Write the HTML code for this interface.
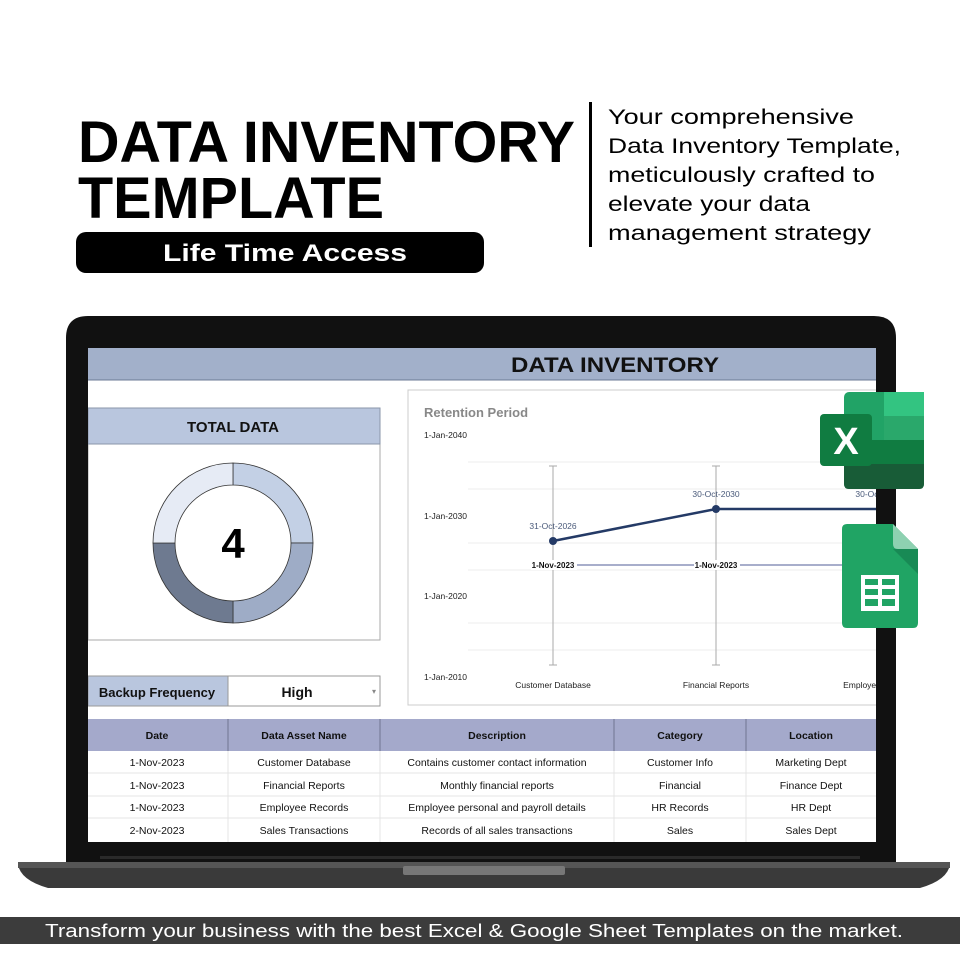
<!DOCTYPE html>
<html><head><meta charset="utf-8"><style>
html,body{margin:0;padding:0;background:#fff}
svg{display:block}
text{font-family:"Liberation Sans",sans-serif}
</style></head><body>
<svg width="960" height="960" viewBox="0 0 960 960" xmlns="http://www.w3.org/2000/svg">
<defs><clipPath id="scr"><rect x="88" y="348" width="788" height="494"/></clipPath></defs>
<rect width="960" height="960" fill="#fff"/>
<!-- Title -->
<text x="78" y="162" font-size="58" font-weight="bold" textLength="497" lengthAdjust="spacingAndGlyphs" fill="#000">DATA INVENTORY</text>
<text x="78" y="218" font-size="58" font-weight="bold" textLength="306" lengthAdjust="spacingAndGlyphs" fill="#000">TEMPLATE</text>
<rect x="76" y="232" width="408" height="41" rx="10" fill="#000"/>
<text x="285" y="261" font-size="24" font-weight="bold" fill="#fff" text-anchor="middle" textLength="244" lengthAdjust="spacingAndGlyphs">Life Time Access</text>
<rect x="589" y="102" width="3" height="145" fill="#000"/>
<g font-size="21" fill="#000">
<text x="608" y="124" textLength="246" lengthAdjust="spacingAndGlyphs">Your comprehensive</text>
<text x="608" y="153" textLength="293" lengthAdjust="spacingAndGlyphs">Data Inventory Template,</text>
<text x="608" y="182" textLength="267" lengthAdjust="spacingAndGlyphs">meticulously crafted to</text>
<text x="608" y="211" textLength="202" lengthAdjust="spacingAndGlyphs">elevate your data</text>
<text x="608" y="240" textLength="263" lengthAdjust="spacingAndGlyphs">management strategy</text>
</g>
<!-- Laptop -->
<path d="M66 870 L66 338 Q66 316 88 316 L874 316 Q896 316 896 338 L896 870 Z" fill="#111"/>
<path d="M18 864 L950 864 Q948 880 920 888 L48 888 Q20 880 18 864Z" fill="#3a3a3a"/>
<rect x="18" y="862" width="932" height="6" fill="#555"/>
<rect x="403" y="866" width="162" height="9" rx="2" fill="#777"/>
<rect x="100" y="856" width="760" height="3" fill="#2a2a2a"/>
<!-- Screen -->
<rect x="88" y="348" width="788" height="494" fill="#fff"/>
<g clip-path="url(#scr)">
<rect x="88" y="348" width="788" height="32" fill="#a2b0ca"/>
<line x1="88" y1="380" x2="876" y2="380" stroke="#6b7a94" stroke-width="1"/>
<text x="615" y="372" font-size="21" font-weight="bold" fill="#111" text-anchor="middle" textLength="208" lengthAdjust="spacingAndGlyphs">DATA INVENTORY</text>
<!-- Total data -->
<rect x="88" y="408" width="292" height="232" fill="#fff" stroke="#aaa"/>
<rect x="88" y="408" width="292" height="36" fill="#b9c6de" stroke="#8a96aa"/>
<text x="233" y="432" font-size="15" font-weight="bold" fill="#111" text-anchor="middle">TOTAL DATA</text>
<g stroke="#333" stroke-width="0.8">
<path d="M233 463 A80 80 0 0 1 313 543 L291 543 A58 58 0 0 0 233 485Z" fill="#c3d0e5"/>
<path d="M313 543 A80 80 0 0 1 233 623 L233 601 A58 58 0 0 0 291 543Z" fill="#9eacc6"/>
<path d="M233 623 A80 80 0 0 1 153 543 L175 543 A58 58 0 0 0 233 601Z" fill="#6e7a90"/>
<path d="M153 543 A80 80 0 0 1 233 463 L233 485 A58 58 0 0 0 175 543Z" fill="#e6ebf5"/>
</g>
<text x="233" y="558" font-size="42" font-weight="bold" fill="#000" text-anchor="middle">4</text>
<!-- Backup -->
<rect x="88" y="676" width="140" height="30" fill="#b9c6de"/>
<rect x="88" y="676" width="292" height="30" fill="none" stroke="#999"/>
<line x1="228" y1="676" x2="228" y2="706" stroke="#999"/>
<text x="157" y="697" font-size="13" font-weight="bold" fill="#111" text-anchor="middle">Backup Frequency</text>
<text x="297" y="697" font-size="14" font-weight="bold" fill="#111" text-anchor="middle">High</text>
<text x="372" y="694" font-size="8" fill="#888">▾</text>
<!-- Chart -->
<rect x="408" y="390" width="500" height="315" fill="#fff" stroke="#ccc"/>
<text x="424" y="417" font-size="13" font-weight="bold" fill="#888">Retention Period</text>
<g font-size="8.5" fill="#222">
<text x="424" y="438">1-Jan-2040</text><text x="424" y="519">1-Jan-2030</text>
<text x="424" y="599">1-Jan-2020</text><text x="424" y="680">1-Jan-2010</text>
</g>
<g stroke="#eee" stroke-width="1">
<line x1="468" y1="462" x2="876" y2="462"/><line x1="468" y1="489" x2="876" y2="489"/>
<line x1="468" y1="543" x2="876" y2="543"/><line x1="468" y1="570" x2="876" y2="570"/>
<line x1="468" y1="623" x2="876" y2="623"/><line x1="468" y1="650" x2="876" y2="650"/>
</g>
<g stroke="#aaa" stroke-width="1">
<line x1="553" y1="466" x2="553" y2="665"/><line x1="549" y1="466" x2="557" y2="466"/><line x1="549" y1="665" x2="557" y2="665"/>
<line x1="716" y1="466" x2="716" y2="665"/><line x1="712" y1="466" x2="720" y2="466"/><line x1="712" y1="665" x2="720" y2="665"/>
</g>
<line x1="553" y1="565" x2="876" y2="565" stroke="#a8aecb" stroke-width="2"/>
<polyline points="553,541 716,509 876,509" fill="none" stroke="#243a66" stroke-width="2.5"/>
<circle cx="553" cy="541" r="4" fill="#243a66"/><circle cx="716" cy="509" r="4" fill="#243a66"/>
<g font-size="8.5" fill="#4a5a7a" text-anchor="middle">
<text x="553" y="529">31-Oct-2026</text><text x="716" y="497">30-Oct-2030</text><text x="879" y="497">30-Oct-2030</text>
</g>
<g font-size="8" font-weight="bold" fill="#111" text-anchor="middle">
<rect x="531" y="560" width="46" height="10" fill="#fff"/><text x="553" y="568" font-family="Liberation Serif,serif">1-Nov-2023</text>
<rect x="694" y="560" width="46" height="10" fill="#fff"/><text x="716" y="568" font-family="Liberation Serif,serif">1-Nov-2023</text>
</g>
<g font-size="8.5" fill="#222" text-anchor="middle">
<text x="553" y="688">Customer Database</text><text x="716" y="688">Financial Reports</text><text x="879" y="688">Employee Records</text>
</g>
<!-- Table -->
<rect x="88" y="719" width="788" height="32" fill="#a4a9cb"/>
<g stroke="#707590" stroke-width="1">
<line x1="228" y1="719" x2="228" y2="751"/><line x1="380" y1="719" x2="380" y2="751"/>
<line x1="614" y1="719" x2="614" y2="751"/><line x1="746" y1="719" x2="746" y2="751"/>
</g>
<g font-size="10.5" font-weight="bold" fill="#111" text-anchor="middle">
<text x="157" y="739">Date</text><text x="304" y="739">Data Asset Name</text><text x="497" y="739">Description</text><text x="680" y="739">Category</text><text x="811" y="739">Location</text>
</g>
<g stroke="#e4e4e4" stroke-width="1">
<line x1="88" y1="773" x2="876" y2="773"/><line x1="88" y1="796" x2="876" y2="796"/><line x1="88" y1="818" x2="876" y2="818"/>
<line x1="228" y1="751" x2="228" y2="842"/><line x1="380" y1="751" x2="380" y2="842"/>
<line x1="614" y1="751" x2="614" y2="842"/><line x1="746" y1="751" x2="746" y2="842"/>
</g>
<g font-size="10.5" fill="#111" text-anchor="middle">
<text x="157" y="766">1-Nov-2023</text><text x="304" y="766">Customer Database</text><text x="497" y="766">Contains customer contact information</text><text x="680" y="766">Customer Info</text><text x="811" y="766">Marketing Dept</text>
<text x="157" y="789">1-Nov-2023</text><text x="304" y="789">Financial Reports</text><text x="497" y="789">Monthly financial reports</text><text x="680" y="789">Financial</text><text x="811" y="789">Finance Dept</text>
<text x="157" y="811">1-Nov-2023</text><text x="304" y="811">Employee Records</text><text x="497" y="811">Employee personal and payroll details</text><text x="680" y="811">HR Records</text><text x="811" y="811">HR Dept</text>
<text x="157" y="834">2-Nov-2023</text><text x="304" y="834">Sales Transactions</text><text x="497" y="834">Records of all sales transactions</text><text x="680" y="834">Sales</text><text x="811" y="834">Sales Dept</text>
</g>
</g>
<!-- Excel icon -->
<rect x="844" y="392" width="80" height="97" rx="5" fill="#21a366"/>
<rect x="884" y="392" width="40" height="24" fill="#33c481"/>
<rect x="844" y="416" width="80" height="24" fill="#21a366"/>
<rect x="884" y="416" width="40" height="24" fill="#2aa86b"/>
<rect x="844" y="440" width="80" height="24" fill="#107c41"/>
<path d="M844 464 H924 V484 Q924 489 919 489 H849 Q844 489 844 484Z" fill="#185c37"/>
<rect x="820" y="414" width="52" height="52" rx="4" fill="#107c41"/>
<text x="846" y="454" font-size="38" font-weight="bold" fill="#fff" text-anchor="middle">X</text>
<!-- Sheets icon -->
<path d="M847 524 H893 L918 549 V623 Q918 628 913 628 H847 Q842 628 842 623 V529 Q842 524 847 524Z" fill="#20a464"/>
<path d="M893 524 L918 549 H898 Q893 549 893 544Z" fill="#8ed1b1"/>
<path d="M893 549 H918 V574Z" fill="#188a55"/>
<rect x="861" y="575" width="38" height="36" fill="#fff"/>
<g fill="#20a464">
<rect x="865" y="579" width="13" height="6"/><rect x="882" y="579" width="13" height="6"/>
<rect x="865" y="589" width="13" height="6"/><rect x="882" y="589" width="13" height="6"/>
<rect x="865" y="599" width="13" height="7"/><rect x="882" y="599" width="13" height="7"/>
</g>
<!-- Bottom band -->
<rect x="0" y="917" width="960" height="27" fill="#3c3c3c"/>
<text x="474" y="937" font-size="18" fill="#fff" text-anchor="middle" textLength="858" lengthAdjust="spacingAndGlyphs">Transform your business with the best Excel &amp; Google Sheet Templates on the market.</text>
</svg>
</body></html>
